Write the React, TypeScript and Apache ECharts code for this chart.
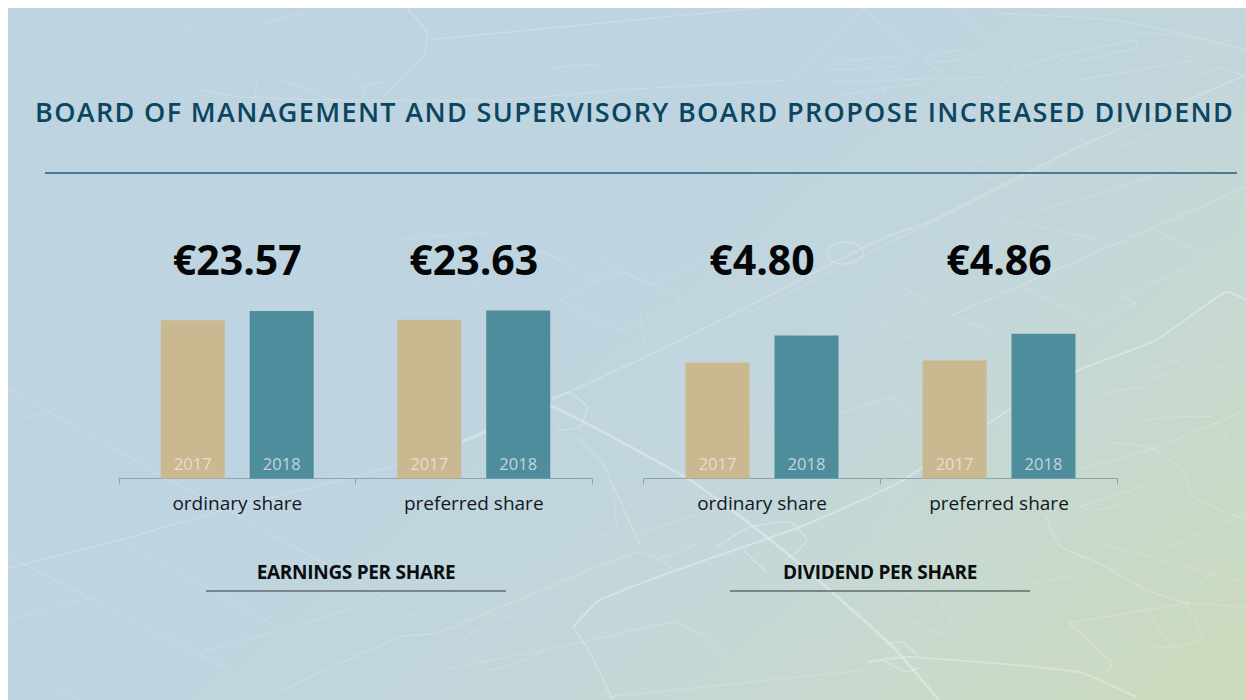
import React, { useEffect, useRef } from "react";
import * as echarts from "echarts";

const shareTypes = ["ordinary share", "preferred share"];
const years = ["2017", "2018"];
const earnings2017 = [22.28, 22.34];
const earnings2018 = [23.57, 23.63];
const dividend2017 = [3.9, 3.96];
const dividend2018 = [4.8, 4.86];

const TITLE = "BOARD OF MANAGEMENT AND SUPERVISORY BOARD PROPOSE INCREASED DIVIDEND";
const SECTION_LEFT = "EARNINGS PER SHARE";
const SECTION_RIGHT = "DIVIDEND PER SHARE";
const FONT = "'Open Sans', 'Noto Sans', sans-serif";
const TAN = "#cab890";
const TEAL = "#4e8e9c";

// Decorative street map behind the chart: [line width, opacity, points]
type Road = [number, number, number[][]];
const roads: Road[] = [
  [2.5, 0.32, [[552, 406], [590, 425], [690, 480], [767, 537], [833, 593], [893, 647], [915, 672], [939, 700]]],
  [2, 0.3, [[573, 627], [600, 600], [677, 570], [800, 527], [900, 482], [1013, 407], [1079, 370], [1156, 340], [1226, 292], [1246, 300]]],
  [1.5, 0.26, [[573, 627], [587, 647], [613, 700]]],
  [1.5, 0.22, [[552, 400], [660, 350], [746, 308], [813, 273], [879, 240], [933, 220], [1079, 147], [1246, 75]]],
  [1.2, 0.2, [[953, 315], [1246, 187]]],
  [1, 0.2, [[746, 314], [879, 248], [1060, 160]]],
  [1, 0.2, [[791, 80], [863, 8]]],
  [1, 0.2, [[200, 90], [240, 97], [340, 100], [500, 100], [620, 90], [790, 80]]],
  [1.2, 0.24, [[427, 40], [633, 20], [760, 8]]],
  [1.2, 0.24, [[407, 8], [427, 33], [423, 57], [383, 97]]],
  [1, 0.18, [[533, 50], [553, 67], [597, 65], [620, 90]]],
  [1, 0.18, [[185, 23], [197, 35]]],
  [1, 0.18, [[263, 23], [303, 13]]],
  [1, 0.2, [[348, 68], [363, 87], [383, 82]]],
  [1, 0.2, [[363, 87], [363, 98]]],
  [1, 0.18, [[282, 80], [333, 100]]],
  [1, 0.18, [[257, 83], [255, 100]]],
  [1, 0.2, [[863, 8], [930, 65], [985, 95], [1000, 100]]],
  [1, 0.2, [[956, 10], [1016, 70], [995, 95]]],
  [1, 0.2, [[1016, 70], [1058, 56], [1136, 40], [1136, 48], [1080, 60]]],
  [1, 0.2, [[1058, 56], [1096, 93]]],
  [1.2, 0.22, [[996, 13], [1113, 20], [1196, 37], [1246, 50]]],
  [1, 0.18, [[1139, 33], [1189, 37], [1203, 50], [1193, 60], [1079, 80]]],
  [1, 0.16, [[830, 68], [835, 62], [900, 57], [905, 62], [900, 66], [835, 70], [830, 68]]],
  [1, 0.16, [[925, 57], [960, 50], [975, 55], [960, 60], [930, 62], [925, 57]]],
  [1, 0.16, [[871, 68], [886, 97]]],
  [1, 0.16, [[831, 82], [991, 77]]],
  [1, 0.16, [[841, 95], [926, 83]]],
  [1, 0.18, [[1189, 77], [1220, 67], [1246, 77]]],
  [1, 0.16, [[966, 167], [1023, 143]]],
  [1, 0.16, [[966, 167], [1009, 187]]],
  [1, 0.16, [[1049, 123], [1106, 153], [1176, 123]]],
  [1, 0.18, [[1149, 227], [1209, 257]]],
  [1, 0.18, [[996, 217], [1099, 240]]],
  [1, 0.18, [[1039, 210], [1113, 190], [1163, 173]]],
  [1, 0.18, [[1123, 297], [1246, 240]]],
  [1, 0.18, [[1123, 297], [1136, 303], [1086, 327]]],
  [1, 0.2, [[903, 288], [953, 315], [993, 333]]],
  [1, 0.18, [[903, 288], [996, 223]]],
  [1, 0.18, [[1019, 285], [1086, 317]]],
  [1, 0.18, [[856, 310], [913, 340]]],
  [1, 0.2, [[8, 388], [157, 473], [233, 513], [367, 587], [433, 627]]],
  [1.2, 0.22, [[8, 568], [120, 540], [213, 513], [397, 465], [487, 430]]],
  [2.5, 0.3, [[462, 442], [552, 405]]],
  [1, 0.18, [[10, 557], [230, 670], [200, 697]]],
  [1, 0.18, [[120, 540], [277, 627]]],
  [1, 0.18, [[200, 653], [373, 603]]],
  [1, 0.14, [[8, 620], [90, 598]]],
  [1, 0.14, [[8, 663], [80, 700]]],
  [1, 0.14, [[8, 420], [50, 413]]],
  [1.2, 0.22, [[267, 697], [400, 637], [437, 633], [590, 570], [640, 552], [677, 570]]],
  [1, 0.18, [[463, 637], [513, 617], [543, 650], [490, 670], [463, 637]]],
  [1, 0.18, [[440, 670], [580, 643]]],
  [1.2, 0.25, [[577, 437], [603, 463], [640, 545]]],
  [1, 0.18, [[613, 487], [617, 527], [593, 540]]],
  [1, 0.18, [[633, 537], [700, 513]]],
  [1, 0.18, [[657, 560], [700, 543]]],
  [1.5, 0.26, [[717, 547], [735, 535], [750, 527], [790, 522], [807, 540], [795, 553], [785, 560]]],
  [1.5, 0.26, [[743, 550], [767, 573]]],
  [1.5, 0.26, [[552, 398], [570, 393], [587, 407], [580, 427], [557, 430]]],
  [1, 0.2, [[580, 643], [633, 630], [673, 623], [707, 637], [747, 680]]],
  [1, 0.2, [[607, 697], [867, 670]]],
  [2, 0.28, [[867, 662], [909, 657], [1079, 672], [1136, 697]]],
  [1.5, 0.26, [[886, 643], [903, 642], [918, 655]]],
  [1.5, 0.26, [[882, 660], [906, 672], [920, 668]]],
  [1.2, 0.25, [[1069, 623], [1113, 663], [1106, 673]]],
  [1.2, 0.25, [[1069, 623], [1186, 603]]],
  [1.2, 0.25, [[1046, 517], [1061, 547], [1099, 563], [1146, 590], [1186, 603]]],
  [1, 0.22, [[1186, 603], [1206, 577], [1246, 553]]],
  [1, 0.22, [[1186, 603], [1246, 607]]],
  [1, 0.22, [[1186, 603], [1203, 637], [1173, 647], [1149, 613]]],
  [1, 0.2, [[1126, 627], [1156, 647], [1173, 647]]],
  [1, 0.22, [[1113, 443], [1149, 447], [1183, 470], [1193, 497], [1246, 520]]],
  [1, 0.22, [[1079, 470], [1159, 447], [1246, 410]]],
  [1, 0.2, [[1129, 440], [1146, 420], [1213, 417], [1228, 440]]],
  [1, 0.18, [[1146, 557], [1246, 513]]],
  [1, 0.18, [[1099, 543], [1246, 583]]],
  [1, 0.18, [[1079, 507], [1143, 487], [1126, 503], [1096, 510], [1079, 507]]],
  [1, 0.2, [[874, 533], [909, 482]]],
  [1, 0.18, [[1033, 583], [1076, 575]]],
  [1, 0.18, [[1033, 585], [1056, 615]]],
  [1, 0.18, [[839, 413], [893, 397], [909, 417]]],
  [1, 0.18, [[1106, 393], [1139, 387], [1183, 410]]],
  [1, 0.18, [[1143, 373], [1173, 360], [1183, 367], [1149, 380], [1143, 373]]],
  [1, 0.18, [[1206, 360], [1233, 373]]],
  [1, 0.18, [[889, 597], [933, 590], [953, 627], [939, 633], [906, 617], [889, 597]]],
  [1, 0.14, [[560, 300], [620, 273], [680, 300], [620, 330], [560, 300]]],
  [1, 0.14, [[600, 260], [650, 285], [700, 262]]],
  [1, 0.14, [[468, 290], [540, 250], [600, 282]]],
  [1, 0.14, [[640, 350], [645, 345], [640, 315]]],
  [1, 0.14, [[400, 240], [480, 232], [570, 262]]],
];

const money = (v: number) => `€${v.toFixed(2)}`;

function bars(name: string, values: number[], color: string, axis: number, labelOpacity: number) {
  return {
    type: "bar",
    name,
    data: values,
    xAxisIndex: axis,
    yAxisIndex: axis === 0 ? 0 : 1,
    barWidth: 64,
    barGap: "39%",
    itemStyle: { color },
    label: {
      show: true,
      position: "insideBottom",
      distance: 7,
      formatter: "{a}",
      fontFamily: FONT,
      fontSize: 16.5,
      color: `rgba(255,255,255,${labelOpacity})`,
    },
  };
}

function bottomAxis(gridIndex: number) {
  return {
    type: "category",
    gridIndex,
    position: "bottom",
    data: shareTypes,
    axisLine: { lineStyle: { color: "#8da4ad", width: 1 } },
    axisTick: { show: true, length: 6, lineStyle: { color: "#8da4ad" } },
    axisLabel: { margin: 15, fontFamily: FONT, fontSize: 19, color: "#14181c", interval: 0 },
  };
}

function topAxis(gridIndex: number, values: number[], margin: number) {
  return {
    type: "category",
    gridIndex,
    position: "top",
    data: values.map(money),
    axisLine: { show: false },
    axisTick: { show: false },
    axisLabel: { margin, fontFamily: FONT, fontSize: 41, fontWeight: 700, color: "#050608", interval: 0 },
  };
}

function sectionTitle(text: string, cx: number) {
  return [
    {
      type: "text",
      x: cx,
      y: 572,
      style: { text, fontFamily: FONT, fontSize: 19, fontWeight: 700, fill: "#0a0d10", align: "center", verticalAlign: "middle" },
    },
    {
      type: "line",
      shape: { x1: cx - 150, y1: 591, x2: cx + 150, y2: 591 },
      style: { stroke: "#5e6b70", lineWidth: 1.5 },
    },
  ];
}

export default function App() {
  const ref = useRef<HTMLDivElement>(null);
  useEffect(() => {
    const chart = echarts.init(ref.current!, undefined, { renderer: "svg" });
    chart.setOption({
      animation: false,
      title: {
        text: TITLE,
        left: 35,
        top: 98,
        padding: 0,
        textStyle: { fontFamily: FONT, fontSize: 27, fontWeight: 600, color: "#0b4560" },
      },
      grid: [
        { left: 119, width: 473, top: 279.5, height: 199 },
        { left: 643.5, width: 474, top: 285, height: 193.5 },
      ],
      xAxis: [bottomAxis(0), topAxis(0, earnings2018, 0), bottomAxis(1), topAxis(1, dividend2018, 5.5)],
      yAxis: [
        { type: "value", gridIndex: 0, min: 0, max: 28, show: false },
        { type: "value", gridIndex: 1, min: 0, max: 6.5, show: false },
      ],
      series: [
        bars(years[0], earnings2017, TAN, 0, 0.55),
        bars(years[1], earnings2018, TEAL, 0, 0.65),
        bars(years[0], dividend2017, TAN, 2, 0.55),
        bars(years[1], dividend2018, TEAL, 2, 0.65),
      ],
      graphic: [
        {
          type: "rect",
          shape: { x: 8, y: 8, width: 1238, height: 692 },
          style: {
            fill: new echarts.graphic.LinearGradient(0.1, 0.3, 1, 0.9, [
              { offset: 0, color: "#bed4e0" },
              { offset: 0.3, color: "#bed4e0" },
              { offset: 0.6, color: "#c3d7da" },
              { offset: 0.8, color: "#c8d9ce" },
              { offset: 1, color: "#ccdabe" },
            ]),
          },
        },
        ...roads.map(([w, o, pts]) => ({
          type: "polyline",
          shape: { points: pts, smooth: pts.length > 3 ? 0.15 : 0 },
          style: { stroke: `rgba(255,255,255,${o})`, lineWidth: w, fill: "none" },
        })),
        {
          type: "ellipse",
          shape: { cx: 845, cy: 253, rx: 18, ry: 11 },
          style: { stroke: "rgba(255,255,255,0.2)", fill: "none", lineWidth: 1.5 },
        },
        {
          type: "line",
          shape: { x1: 45, y1: 173, x2: 1237, y2: 173 },
          style: { stroke: "#1f5c78", lineWidth: 1.5 },
        },
        ...sectionTitle(SECTION_LEFT, 356),
        ...sectionTitle(SECTION_RIGHT, 880),
      ],
    });
    const spacing = () => {
      ref.current?.querySelectorAll("text").forEach((t) => {
        const s = t.textContent || "";
        if (s === TITLE) t.setAttribute("letter-spacing", "1.35");
        if (s === SECTION_LEFT || s === SECTION_RIGHT) t.setAttribute("letter-spacing", "-0.3");
      });
    };
    spacing();
    chart.on("finished", spacing);
    return () => chart.dispose();
  }, []);
  return <div ref={ref} style={{ position: "absolute", left: 0, top: 0, width: 1246, height: 700 }} />;
}
